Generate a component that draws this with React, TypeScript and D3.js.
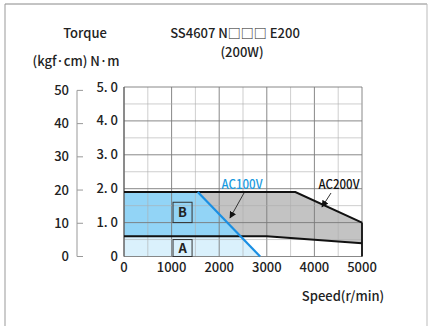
import React from "react";
import * as d3 from "d3";

const speedTicks = [0, 1000, 2000, 3000, 4000, 5000];
const nmTicks = [0, 1, 2, 3, 4, 5];
const nmLabels = ["0", "1. 0", "2. 0", "3. 0", "4. 0", "5. 0"];
const kgfTicks = [0, 10, 20, 30, 40, 50];
const ac200Peak: [number, number][] = [[0, 1.9], [3600, 1.9], [5000, 1.0]];
const continuous: [number, number][] = [[0, 0.6], [3000, 0.6], [5000, 0.39]];
const ac100: [number, number][] = [[1550, 1.9], [2860, 0]];

const W = 429, H = 326;
const FONT = "'Noto Sans CJK JP', 'DejaVu Sans', sans-serif";

export default function App() {
  const x = d3.scaleLinear().domain([0, 5000]).range([124, 362]);
  const y = d3.scaleLinear().domain([0, 5]).range([256.5, 87]);
  const line = d3.line<[number, number]>().x(d => x(d[0])).y(d => y(d[1]));

  const contY = continuous[0][1];
  const [a0, a1] = ac100;
  const cross = a0[0] + ((a0[1] - contY) / (a0[1] - a1[1])) * (a1[0] - a0[0]);

  const regionA: [number, number][] = [[0, 0], [0, contY], [cross, contY], [a1[0], 0]];
  const regionB: [number, number][] = [[0, contY], [0, a0[1]], [a0[0], a0[1]], [cross, contY]];
  const regionGray: [number, number][] = [
    [cross, contY], [a0[0], a0[1]], ...ac200Peak.slice(1),
    ...continuous.slice(1).reverse(),
  ];

  const vGrid = d3.range(0, 5001, 500);
  const hGrid = d3.range(0, 5.01, 0.5);
  const isMajorH = (v: number) => Math.abs(v - Math.round(v)) < 1e-6;

  return (
    <svg width={W} height={H} style={{ position: "absolute", left: 0, top: 0, background: "#fff" }} fontFamily={FONT}>
      <rect x={0} y={0} width={W} height={H} fill="#fff" />
      {/* frame */}
      <line x1={5} y1={4} x2={427} y2={4} stroke="#888" strokeWidth={1} />
      <line x1={5} y1={4} x2={5} y2={326} stroke="#999" strokeWidth={1} />
      <line x1={427} y1={4} x2={427} y2={326} stroke="#bbb" strokeWidth={1} />

      {/* fills */}
      <path d={line(regionA) + "Z"} fill="#daf1fc" />
      <path d={line(regionB) + "Z"} fill="#92d4f6" />
      <path d={line(regionGray) + "Z"} fill="#c3c3c3" />

      {/* grid */}
      {vGrid.map(v => (
        <line key={"v" + v} x1={x(v)} x2={x(v)} y1={y(0)} y2={y(5)}
          stroke={v % 1000 === 0 ? "#7a7a7a" : "#adadad"} strokeWidth={v % 1000 === 0 ? 0.9 : 0.6} />
      ))}
      {hGrid.map(v => (
        <line key={"h" + v} x1={x(0)} x2={x(5000)} y1={y(v)} y2={y(v)}
          stroke={isMajorH(v) ? "#7a7a7a" : "#adadad"} strokeWidth={isMajorH(v) ? 0.9 : 0.6} />
      ))}
      <line x1={x(0)} x2={x(0)} y1={y(0)} y2={y(5)} stroke="#555" strokeWidth={1} />

      {/* boxes */}
      <rect x={x(1030)} y={y(1.6)} width={x(1430) - x(1030)} height={y(1.0) - y(1.6)} fill="none" stroke="#333" strokeWidth={1} />
      <text x={(x(1030) + x(1430)) / 2} y={(y(1.6) + y(1.0)) / 2 + 5} textAnchor="middle" fontSize={13} fontWeight="bold" fill="#222">B</text>
      <rect x={x(1030)} y={y(0.5)} width={x(1430) - x(1030)} height={y(0) - y(0.5)} fill="none" stroke="#333" strokeWidth={1} />
      <text x={(x(1030) + x(1430)) / 2} y={(y(0.5) + y(0)) / 2 + 5} textAnchor="middle" fontSize={13} fontWeight="bold" fill="#222">A</text>

      {/* lines */}
      <path d={line(ac200Peak) ?? ""} fill="none" stroke="#111" strokeWidth={2} />
      <path d={line(continuous) ?? ""} fill="none" stroke="#111" strokeWidth={2} />
      <line x1={x(5000)} x2={x(5000)} y1={y(ac200Peak[2][1])} y2={y(0)} stroke="#111" strokeWidth={1.8} />
      <path d={line(ac100) ?? ""} fill="none" stroke="#1a8fe3" strokeWidth={2.2} />

      {/* annotations */}
      <defs>
        <marker id="arr" viewBox="0 0 10 10" refX="9" refY="5" markerWidth="7" markerHeight="7" orient="auto">
          <path d="M0,0 L10,5 L0,10 Z" fill="#111" />
        </marker>
      </defs>
      <text x={242} y={189} textAnchor="middle" fontSize={13} fontWeight={500} fill="#1a9ae0" textLength={41} lengthAdjust="spacingAndGlyphs">AC100V</text>
      <line x1={244} y1={193} x2={230} y2={218} stroke="#333" strokeWidth={1} markerEnd="url(#arr)" />
      <text x={339} y={189} textAnchor="middle" fontSize={13} fontWeight={500} fill="#111" textLength={41} lengthAdjust="spacingAndGlyphs">AC200V</text>
      <line x1={331} y1={193} x2={322} y2={207} stroke="#333" strokeWidth={1} markerEnd="url(#arr)" />

      {/* x axis labels */}
      {speedTicks.map(v => (
        <text key={"x" + v} x={x(v)} y={272} textAnchor="middle" fontSize={13} fontWeight={500} fill="#222">{v}</text>
      ))}
      <text x={343} y={301} textAnchor="middle" fontSize={13} fontWeight={500} fill="#222">Speed(r/min)</text>

      {/* N·m axis labels */}
      {nmTicks.map((v, i) => (
        <text key={"n" + v} x={118} y={y(v) + 4.5} textAnchor="end" fontSize={13} fontWeight={500} fill="#222">{nmLabels[i]}</text>
      ))}
      {/* kgf·cm axis */}
      <line x1={77} x2={77} y1={y(0)} y2={y(4.9)} stroke="#999" strokeWidth={1} />
      {kgfTicks.map(v => (
        <g key={"k" + v}>
          <line x1={77} x2={83} y1={y(v * 0.098)} y2={y(v * 0.098)} stroke="#999" strokeWidth={1} />
          <text x={69} y={y(v * 0.098) + 4.5} textAnchor="end" fontSize={13} fontWeight={500} fill="#222">{v}</text>
        </g>
      ))}

      {/* titles */}
      <text x={85} y={38} textAnchor="middle" fontSize={13} fontWeight={500} fill="#222">Torque</text>
      <text x={76} y={66} textAnchor="middle" fontSize={13} fontWeight={500} fill="#222">(kgf·cm) N·m</text>
      <text x={235} y={38} textAnchor="middle" fontSize={13} fontWeight={500} fill="#222">SS4607 N□□□ E200</text>
      <text x={242} y={57} textAnchor="middle" fontSize={13} fontWeight={500} fill="#222">(200W)</text>
    </svg>
  );
}
